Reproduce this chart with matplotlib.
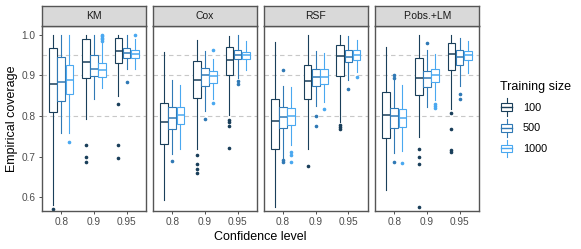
import numpy as np
import matplotlib.pyplot as plt
from matplotlib.lines import Line2D
from matplotlib.patches import Rectangle
from matplotlib.legend_handler import HandlerBase

plt.rcParams['font.family'] = ['Liberation Sans', 'DejaVu Sans']

methods = ["KM", "Cox", "RSF", "P.obs.+LM"]
levels = ["0.8", "0.9", "0.95"]
sizes = ["100", "500", "1000"]
colors = ["#1A3F5A", "#3079B5", "#4AA8F0"]

# (whislo, q1, med, q3, whishi) for each level, sizes 100 / 500 / 1000
km_box = [
    [(0.580, 0.811, 0.879, 0.969, 1.000), (0.759, 0.836, 0.884, 0.946, 1.000), (0.759, 0.854, 0.888, 0.927, 1.000)],
    [(0.792, 0.894, 0.934, 0.989, 1.000), (0.843, 0.898, 0.917, 0.951, 1.000), (0.868, 0.896, 0.914, 0.931, 0.980)],
    [(0.850, 0.930, 0.960, 0.992, 1.000), (0.915, 0.943, 0.955, 0.967, 1.000), (0.915, 0.943, 0.954, 0.964, 0.990)],
]
km_out = [
    [[0.572], [], [0.735]],
    [[0.728, 0.698, 0.687], [], [1.0, 0.997, 0.993, 0.990, 0.986]],
    [[0.830, 0.728, 0.697], [0.884], [1.0]],
]

cox_box = [
    [(0.594, 0.731, 0.785, 0.832, 0.957), (0.707, 0.769, 0.794, 0.822, 0.890), (0.718, 0.780, 0.802, 0.822, 0.876)],
    [(0.719, 0.845, 0.889, 0.935, 0.988), (0.812, 0.874, 0.900, 0.918, 0.960), (0.843, 0.882, 0.898, 0.912, 0.940)],
    [(0.802, 0.902, 0.938, 0.971, 0.998), (0.893, 0.940, 0.951, 0.964, 0.999), (0.913, 0.941, 0.950, 0.959, 0.985)],
]
cox_out = [
    [[], [0.689], []],
    [[0.703, 0.683, 0.669, 0.659], [0.792], [0.962, 0.833]],
    [[0.790, 0.785, 0.775, 0.721], [0.886, 0.880], []],
]

rsf_box = [
    [(0.575, 0.718, 0.787, 0.843, 0.982), (0.696, 0.771, 0.798, 0.822, 0.875), (0.728, 0.777, 0.799, 0.820, 0.871)],
    [(0.718, 0.841, 0.886, 0.925, 1.000), (0.825, 0.874, 0.897, 0.915, 0.960), (0.835, 0.879, 0.897, 0.915, 0.956)],
    [(0.785, 0.898, 0.949, 0.974, 1.000), (0.888, 0.933, 0.945, 0.964, 0.997), (0.909, 0.938, 0.950, 0.964, 0.987)],
]
rsf_out = [
    [[], [0.913, 0.691, 0.686], [0.711, 0.703, 0.686]],
    [[0.678], [0.800, 0.775], [0.818]],
    [[0.779, 0.773, 0.769], [0.866], [0.897]],
]

lm_box = [
    [(0.617, 0.747, 0.802, 0.860, 0.970), (0.709, 0.771, 0.800, 0.820, 0.888), (0.715, 0.774, 0.795, 0.817, 0.876)],
    [(0.748, 0.853, 0.894, 0.942, 1.000), (0.822, 0.871, 0.894, 0.912, 0.962), (0.839, 0.883, 0.901, 0.915, 0.952)],
    [(0.818, 0.913, 0.953, 0.981, 1.000), (0.874, 0.927, 0.945, 0.963, 0.992), (0.905, 0.939, 0.950, 0.961, 0.985)],
]
lm_out = [
    [[], [0.901, 0.894, 0.688], [0.685]],
    [[0.718, 0.699, 0.683, 0.575], [0.979], [0.829, 0.824, 0.820]],
    [[0.807, 0.767, 0.717, 0.711], [0.854, 0.843], []],
]

all_box = [km_box, cox_box, rsf_box, lm_box]
all_out = [km_out, cox_out, rsf_out, lm_out]

W, H = 581, 249
fig = plt.figure(figsize=(W / 100, H / 100), dpi=100)

panel_left = [41.7, 152.7, 263.5, 374.7]
panel_w = 104.5
panel_top, panel_bot = 26, 211
strip_top = 6

lw = 0.8
offsets = [-0.25, 0.0, 0.25]

for m, name in enumerate(methods):
    ax = fig.add_axes([panel_left[m] / W, 1 - panel_bot / H, panel_w / W, (panel_bot - panel_top) / H])
    for ref in [0.8, 0.9, 0.95]:
        ax.axhline(ref, color="#c8c8c8", lw=0.8, ls=(0, (4, 3)), zorder=0)
    for i in range(len(levels)):
        for j in range(len(sizes)):
            lo, q1, med, q3, hi = all_box[m][i][j]
            c = colors[j]
            st = [dict(whislo=lo, q1=q1, med=med, q3=q3, whishi=hi, fliers=all_out[m][i][j])]
            ax.bxp(st, positions=[i + 1 + offsets[j]], widths=0.235, showcaps=False,
                   patch_artist=True, manage_ticks=False,
                   boxprops=dict(facecolor="white", edgecolor=c, lw=lw),
                   medianprops=dict(color=c, lw=1.1),
                   whiskerprops=dict(color=c, lw=lw),
                   flierprops=dict(marker="o", markersize=1.6, markerfacecolor=c,
                                   markeredgecolor=c, lw=0))
    ax.set_xlim(0.4, 3.6)
    ax.set_ylim(0.566, 1.022)
    ax.set_xticks([1, 2, 3])
    ax.set_xticklabels(levels)
    ax.set_yticks([0.6, 0.7, 0.8, 0.9, 1.0])
    if m == 0:
        ax.set_yticklabels(["0.6", "0.7", "0.8", "0.9", "1.0"])
    else:
        ax.tick_params(axis="y", left=False, labelleft=False)
    ax.tick_params(colors="#333333", labelcolor="#4d4d4d", labelsize=7.3, length=2.5, width=0.6, pad=2)
    for s in ax.spines.values():
        s.set_color("#555555")
        s.set_linewidth(1.0)

    sax = fig.add_axes([panel_left[m] / W, 1 - panel_top / H, panel_w / W, (panel_top - strip_top) / H])
    sax.set_facecolor("#d9d9d9")
    sax.set_xticks([])
    sax.set_yticks([])
    for s in sax.spines.values():
        s.set_color("#555555")
        s.set_linewidth(1.0)
    sax.text(0.5, 0.5, name, ha="center", va="center", fontsize=7.5, color="#1a1a1a",
             transform=sax.transAxes)

fig.text(12 / W, 1 - 119 / H, "Empirical coverage", rotation=90, ha="center", va="center", fontsize=9)
fig.text(260 / W, 1 - 237 / H, "Confidence level", ha="center", va="center", fontsize=9)


class BoxKey(HandlerBase):
    def create_artists(self, legend, orig_handle, xdescent, ydescent, width, height, fontsize, trans):
        c = orig_handle.get_color()
        x0, x1 = -xdescent, -xdescent + width
        xm = (x0 + x1) / 2
        y0, y1 = -ydescent, -ydescent + height
        ym = (y0 + y1) / 2
        bh = height * 0.6
        rect = Rectangle((x0 + width * 0.1, ym - bh / 2), width * 0.8, bh, facecolor="white",
                         edgecolor=c, lw=lw, transform=trans)
        w1 = Line2D([xm, xm], [y0 - height * 0.2, ym - bh / 2], color=c, lw=lw, transform=trans)
        w2 = Line2D([xm, xm], [ym + bh / 2, y1 + height * 0.2], color=c, lw=lw, transform=trans)
        md = Line2D([x0 + width * 0.1, x1 - width * 0.1], [ym, ym], color=c, lw=1.0, transform=trans)
        return [w1, w2, rect, md]


handles = [Line2D([], [], color=c) for c in colors]
fig.legend(handles, sizes, title="Training size", handler_map={Line2D: BoxKey()},
           loc="upper left", bbox_to_anchor=(490 / W, 1 - 71 / H), frameon=False,
           fontsize=7.8, title_fontsize=9, handlelength=1.25, handleheight=1.4,
           labelspacing=0.75, handletextpad=0.9, alignment="left")

fig.savefig("out.png", dpi=100)
